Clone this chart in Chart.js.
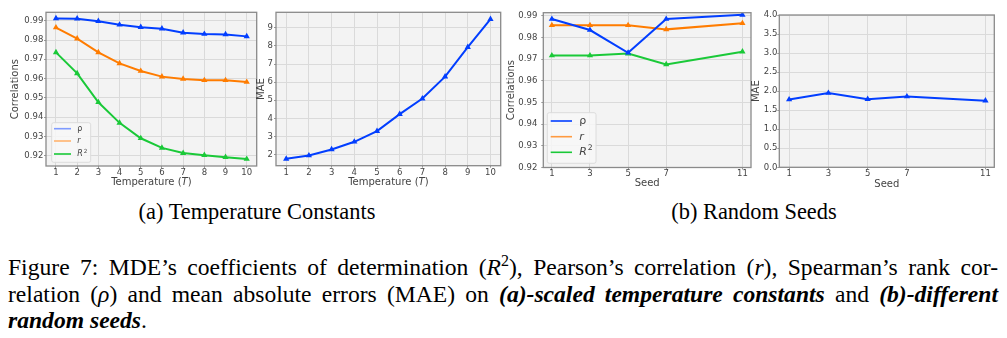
<!DOCTYPE html>
<html><head><meta charset="utf-8">
<script src="https://cdn.jsdelivr.net/npm/chart.js@4.4.1/dist/chart.umd.min.js"></script>
<style>
html,body{margin:0;padding:0;background:#fff;}
body{width:1007px;height:338px;overflow:hidden;position:relative;font-family:"Liberation Serif","Times New Roman",serif;color:#000;}
canvas{position:absolute;top:0;}
.sub{position:absolute;font-size:22.4px;line-height:22.4px;white-space:nowrap;text-align:center;}
.ln{position:absolute;left:8px;width:990px;font-size:23.6px;line-height:23.6px;white-space:nowrap;text-align:justify;text-align-last:justify;}
.ln.last{text-align:left;text-align-last:left;}
.bi{font-weight:bold;font-style:italic;}
</style></head><body>
<canvas id="c1" width="262" height="195" style="left:0px"></canvas>
<canvas id="c2" width="258" height="195" style="left:250px"></canvas>
<canvas id="c3" width="256" height="195" style="left:500px"></canvas>
<canvas id="c4" width="262" height="195" style="left:745px"></canvas>
<div class="sub" style="left:107px;width:300px;top:200.5px">(a) Temperature Constants</div>
<div class="sub" style="left:604px;width:300px;top:200.5px">(b) Random Seeds</div>
<div class="ln" style="top:255.9px">Figure 7: MDE’s coefficients of determination (<i>R</i><sup style="font-size:16px;line-height:0">2</sup>), Pearson’s correlation (<i>r</i>), Spearman’s rank cor-</div>
<div class="ln" style="top:282.9px">relation (<i>ρ</i>) and mean absolute errors (MAE) on <span class="bi">(a)-scaled temperature constants</span> and <span class="bi">(b)-different</span></div>
<div class="ln last" style="top:309.2px"><span class="bi">random seeds</span>.</div>
<script>
// ---- data ----
const tempX = [1, 2, 3, 4, 5, 6, 7, 8, 9, 10];
const tempRho = [0.9912, 0.9911, 0.9898, 0.9879, 0.9867, 0.9859, 0.9838, 0.9831, 0.9829, 0.9819];
const tempR = [0.9865, 0.9807, 0.9736, 0.9679, 0.9639, 0.9610, 0.9598, 0.9591, 0.9591, 0.9582];
const tempR2 = [0.9736, 0.9627, 0.9477, 0.9370, 0.9290, 0.9240, 0.9213, 0.9202, 0.9192, 0.9182];
const tempMAE = [1.76, 1.94, 2.28, 2.70, 3.29, 4.23, 5.09, 6.30, 7.93, 9.48];
const seedX = [1, 3, 5, 7, 11];
const seedRho = [0.9886, 0.9835, 0.9730, 0.9886, 0.9905];
const seedR = [0.9857, 0.9857, 0.9857, 0.9838, 0.9866];
const seedR2 = [0.9717, 0.9717, 0.9726, 0.9676, 0.9735];
const seedMAE = [1.78, 1.95, 1.79, 1.86, 1.75];
const corrTicks = [0.92, 0.93, 0.94, 0.95, 0.96, 0.97, 0.98, 0.99];
const tempMaeTicks = [2, 3, 4, 5, 6, 7, 8, 9];
const seedMaeTicks = [0.0, 0.5, 1.0, 1.5, 2.0, 2.5, 3.0, 3.5, 4.0];
const tempTicks = tempX;
const seedTicks = seedX;
const seriesNames = ['ρ', 'r', 'R²'];

// ---- style ----
const BLUE = '#023EFF', ORANGE = '#FF7C00', GREEN = '#1AC938';
const BG = '#f3f3f3', GRID = '#dadada', FRAME = '#8a8a8a', TXT = '#444';
const SANS = 'DejaVu Sans';

function pts(xs, ys){ return xs.map((x,i)=>({x:x, y:ys[i]})); }
function ds(xs, ys, color, label){
  return {label:label, data:pts(xs,ys), borderColor:color, backgroundColor:color,
    borderWidth:2, pointStyle:'triangle', pointRadius:3.6, pointBorderWidth:0, tension:0};
}
function fmt(dec){ return v => Number(v).toFixed(dec); }

function frameBg(legend, xtitle){
  return {
    id:'frameBg',
    beforeDraw(chart){
      const c=chart.ctx, a=chart.chartArea;
      c.save(); c.fillStyle=BG; c.fillRect(a.left,a.top,a.right-a.left,a.bottom-a.top); c.restore();
    },
    afterDatasetsDraw(chart){
      const c=chart.ctx, a=chart.chartArea;
      c.save();
      c.strokeStyle=FRAME; c.lineWidth=1.3;
      c.strokeRect(a.left,a.top,a.right-a.left,a.bottom-a.top);
      if (xtitle){
        c.fillStyle=TXT; c.textBaseline='middle';
        const parts = xtitle.parts;
        let w=0;
        parts.forEach(p=>{ c.font=(p.it?'italic ':'')+'10px "'+SANS+'"'; w+=c.measureText(p.t).width; });
        let x=(a.left+a.right)/2 - w/2;
        parts.forEach(p=>{ c.font=(p.it?'italic ':'')+'10px "'+SANS+'"'; c.textAlign='left'; c.fillText(p.t,x,xtitle.y); x+=c.measureText(p.t).width; });
      }
      if (legend){
        const L=legend;
        const bx=a.left+L.dx, by=a.bottom-L.dy-L.h;
        c.beginPath();
        if (c.roundRect) c.roundRect(bx,by,L.w,L.h,2); else c.rect(bx,by,L.w,L.h);
        c.fillStyle='rgba(247,247,247,0.85)'; c.fill();
        c.strokeStyle='#dcdcdc'; c.lineWidth=1; c.stroke();
        const cols=L.colors;
        seriesNames.forEach((name,i)=>{
          const y=by+L.rows[i];
          c.strokeStyle=cols[i]; c.lineWidth=1.6;
          c.beginPath(); c.moveTo(bx+L.l0,y); c.lineTo(bx+L.l1,y); c.stroke();
          c.fillStyle=TXT; c.textBaseline='middle'; c.textAlign='left';
          const fs=L.fs; const lx=bx+L.tx;
          if (i===0){ c.font=fs+'px "'+SANS+'"'; c.fillText('ρ',lx,y); }
          else if (i===1){ c.font='italic '+fs+'px "'+SANS+'"'; c.fillText('r',lx,y); }
          else { c.font='italic '+fs+'px "'+SANS+'"'; c.fillText('R',lx,y);
            const rw=c.measureText('R').width; c.font=(fs*0.7)+'px "'+SANS+'"'; c.fillText('2',lx+rw+0.8,y-fs*0.35); }
        });
      }
      c.restore();
    }
  };
}

function makeChart(id, cfg){
  const yTickVals = cfg.yTicks, xTickVals = cfg.xTicks;
  return new Chart(document.getElementById(id), {
    type:'line',
    data:{datasets:cfg.datasets},
    options:{
      responsive:false, animation:false, devicePixelRatio:1,
      layout:{padding:{top:cfg.pad.top,right:cfg.pad.right,bottom:0,left:0}},
      plugins:{legend:{display:false},tooltip:{enabled:false}},
      scales:{
        x:{type:'linear', min:cfg.xmin, max:cfg.xmax,
          afterBuildTicks:ax=>{ ax.ticks = xTickVals.map(v=>({value:v})); },
          afterFit:s=>{ s.height=cfg.xh; s.paddingLeft=0; s.paddingRight=0; s.paddingTop=0; s.paddingBottom=0; },
          grid:{color:GRID, lineWidth:1, tickLength:2, tickColor:'#999', drawOnChartArea:true},
          border:{display:false},
          ticks:{font:{family:SANS,size:8.5,lineHeight:1}, color:TXT, padding:cfg.xpad, maxRotation:0, autoSkip:false,
            callback:v=>String(v)},
          title:{display:!!cfg.xtitleText, text:cfg.xtitleText||'', font:{family:SANS,size:10,lineHeight:1.2}, color:TXT, padding:{top:0,bottom:cfg.xtpad}}
        },
        y:{type:'linear', min:cfg.ymin, max:cfg.ymax,
          afterBuildTicks:ax=>{ ax.ticks = yTickVals.map(v=>({value:v})); },
          afterFit:s=>{ s.width=cfg.yw; s.paddingLeft=0; s.paddingRight=0; s.paddingTop=0; s.paddingBottom=0; },
          grid:{color:GRID, lineWidth:1, tickLength:2, tickColor:'#999', drawOnChartArea:true},
          border:{display:false},
          ticks:{font:{family:SANS,size:8.5}, color:TXT, padding:cfg.ypad, autoSkip:false, callback:cfg.yfmt},
          title:{display:true, text:cfg.ytitle, font:{family:SANS,size:10,lineHeight:1.2}, color:TXT, padding:{top:cfg.ytpad,bottom:0}}
        }
      }
    },
    plugins:[frameBg(cfg.legend, cfg.xtitle)]
  });
}

makeChart('c1', {
  datasets:[ds(tempX,tempRho,BLUE,seriesNames[0]), ds(tempX,tempR,ORANGE,seriesNames[1]), ds(tempX,tempR2,GREEN,seriesNames[2])],
  xmin:0.53, xmax:10.47, ymin:0.9146, ymax:0.9944, xTicks:tempTicks, yTicks:corrTicks, yfmt:fmt(2),
  pad:{top:12.3,right:5.3}, yw:46, xh:29, xpad:0.5, ypad:0.7, ytpad:9, ytitle:'Correlations',
  xtitle:{y:182.7, parts:[{t:'Temperature ('},{t:'T',it:true},{t:')'}]},
  legend:{dx:5.7, dy:3.7, w:39, h:39.6, rows:[6,18.3,31.3], l0:2.3, l1:19.3, tx:25.6, fs:8, colors:['#7f9bff','#ffb36e',GREEN]}
});
makeChart('c2', {
  datasets:[ds(tempX,tempMAE,BLUE,'MAE')],
  xmin:0.55, xmax:10.45, ymin:1.38, ymax:9.86, xTicks:tempTicks, yTicks:tempMaeTicks, yfmt:fmt(0),
  pad:{top:12.3,right:7.3}, yw:26, xh:29.3, xpad:0.5, ypad:1, ytpad:5.7, ytitle:'MAE',
  xtitle:{y:182.7, parts:[{t:'Temperature ('},{t:'T',it:true},{t:')'}]}
});
makeChart('c3', {
  datasets:[ds(seedX,seedRho,BLUE,seriesNames[0]), ds(seedX,seedR,ORANGE,seriesNames[1]), ds(seedX,seedR2,GREEN,seriesNames[2])],
  xmin:0.55, xmax:11.45, ymin:0.92, ymax:0.9915, xTicks:seedTicks, yTicks:corrTicks, yfmt:fmt(2),
  pad:{top:12.7,right:5}, yw:43.3, xh:27.5, xpad:0.5, ypad:4, ytpad:5.7, ytitle:'Correlations',
  xtitleText:'Seed', xtpad:5.7,
  legend:{dx:4, dy:4.2, w:48.7, h:50.6, rows:[8.3,24,39.6], l0:3.4, l1:24.7, tx:32, fs:11, colors:[BLUE,'#ff9a40',GREEN]}
});
makeChart('c4', {
  datasets:[ds(seedX,seedMAE,BLUE,'MAE')],
  xmin:0.5, xmax:11.45, ymin:0, ymax:4.0, xTicks:seedTicks, yTicks:seedMaeTicks, yfmt:fmt(1),
  pad:{top:15,right:12.7}, yw:34.3, xh:27.7, xpad:0.5, ypad:0, ytpad:5.7, ytitle:'MAE',
  xtitleText:'Seed', xtpad:5
});
</script>
</body></html>
